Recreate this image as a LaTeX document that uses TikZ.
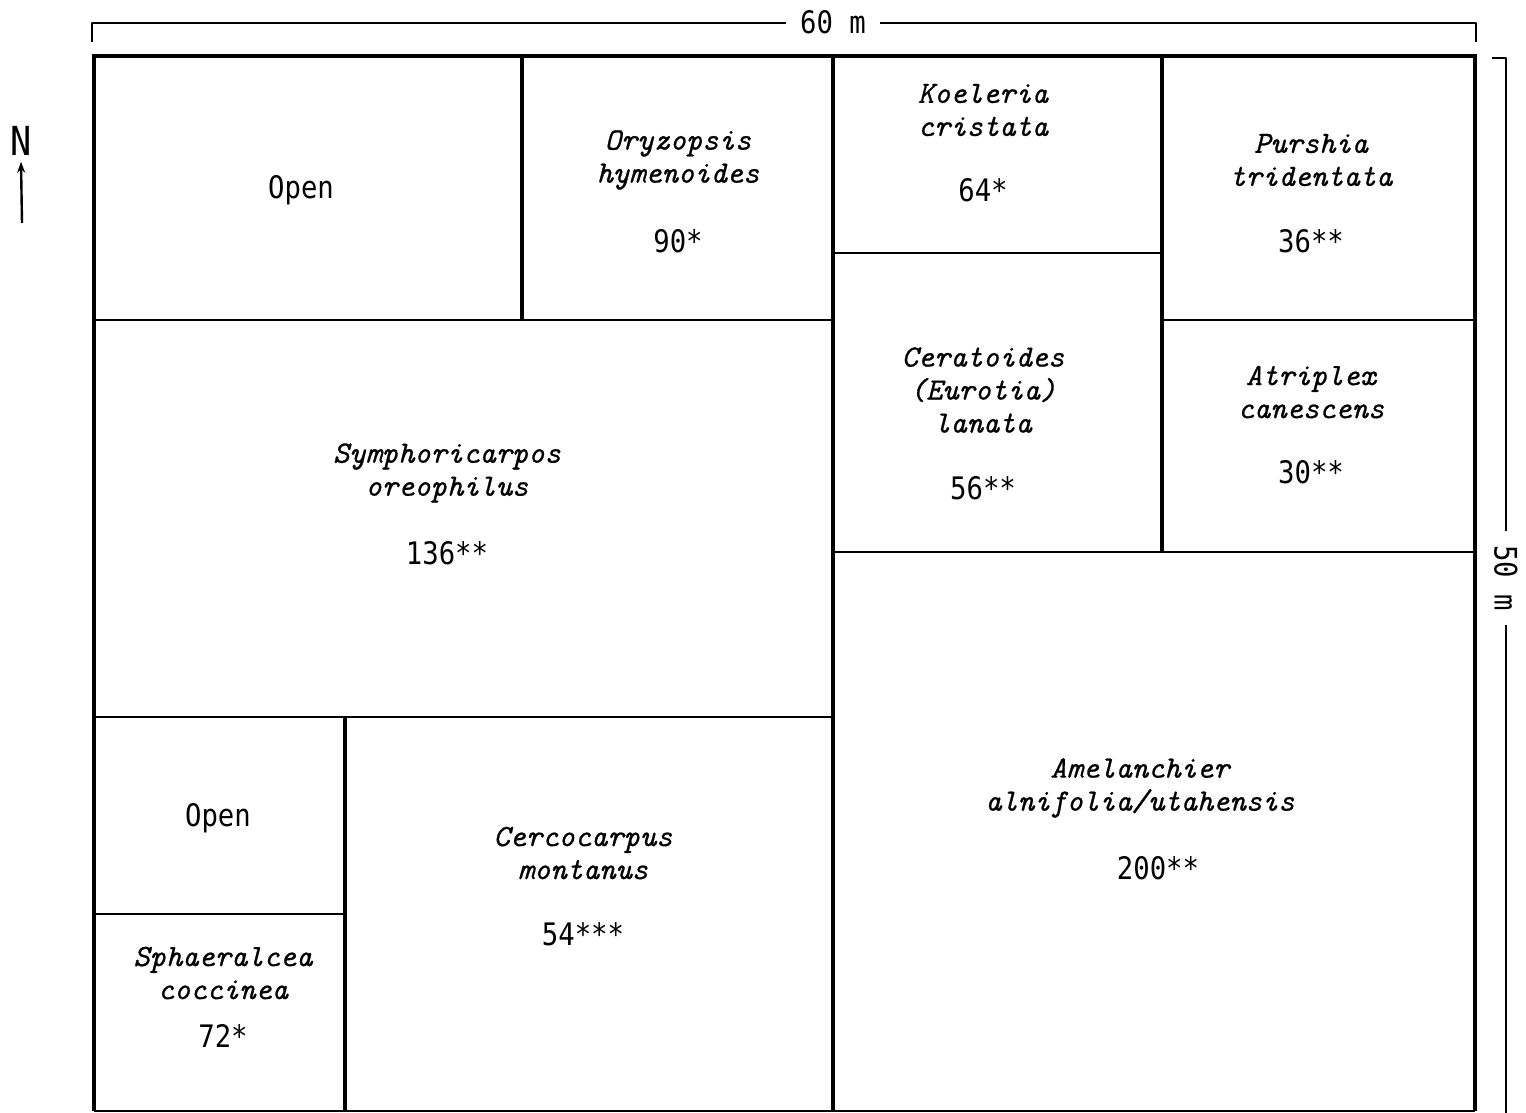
\documentclass[tikz,border=0pt]{standalone}
\usepackage{fontspec}
\setmainfont{DejaVu Sans Mono}
\newfontfamily\numfont[FakeStretch=0.88]{DejaVu Sans Mono}
\newfontfamily\spfont{Latin Modern Mono}[ItalicFeatures={FakeBold=0.7}]
\usetikzlibrary{arrows.meta}
\begin{document}
\begin{tikzpicture}[x=1pt,y=-1pt,
  frame/.style={line width=3.2pt},
  divline/.style={line width=2.2pt},
  dimline/.style={line width=1.8pt},
  species/.style={font=\fontsize{31}{33}\selectfont\spfont\itshape, align=center, inner sep=0pt},
  count/.style={font=\fontsize{31}{33}\selectfont\numfont, inner sep=0pt},
  dimlabel/.style={font=\fontsize{31}{33}\selectfont\numfont, inner xsep=14pt, inner ysep=2pt}]
\useasboundingbox (0,0) rectangle (1526,1113);
% corner coordinates
\coordinate (tl) at (94,56);
\coordinate (tr) at (1475,56);
\coordinate (bl) at (94,1111);
\coordinate (br) at (1475,1111);
% frame
\draw[frame] (bl) -- (tl) -- (tr) -- (br);
\draw[line width=1.2pt] (bl) -- (br);
% main vertical divider
\coordinate (mt) at (833,56);
\coordinate (mb) at (833,1111);
\draw[frame] (mt) -- (mb);
% left half
\coordinate (a1) at (522,56); \coordinate (a2) at (522,320);
\draw[frame] (a1) -- (a2);
\coordinate (h1l) at (94,320); \coordinate (h1r) at (833,320);
\draw[divline] (h1l) -- (h1r);
\coordinate (h2l) at (94,717); \coordinate (h2r) at (833,717);
\draw[divline] (h2l) -- (h2r);
\coordinate (v2t) at (345,717); \coordinate (v2b) at (345,1111);
\draw[frame] (v2t) -- (v2b);
\coordinate (h3l) at (94,914); \coordinate (h3r) at (345,914);
\draw[divline] (h3l) -- (h3r);
% right half
\coordinate (v3t) at (1162,56); \coordinate (v3b) at (1162,552);
\draw[frame] (v3t) -- (v3b);
\coordinate (h4l) at (833,253); \coordinate (h4r) at (1162,253);
\draw[divline] (h4l) -- (h4r);
\coordinate (h5l) at (1162,320); \coordinate (h5r) at (1475,320);
\draw[divline] (h5l) -- (h5r);
\coordinate (h6l) at (833,552); \coordinate (h6r) at (1475,552);
\draw[divline] (h6l) -- (h6r);

% top dimension
\node[dimlabel] (d60) at (833,22) {60 m};
\coordinate (d60l) at (92,42); \coordinate (d60lc) at (92,23);
\coordinate (d60r) at (1476,42); \coordinate (d60rc) at (1476,23);
\draw[dimline, line join=round] (d60l) -- (d60lc) -- (d60.west |- d60lc);
\draw[dimline, line join=round] (d60.east |- d60rc) -- (d60rc) -- (d60r);
% right dimension
\node[dimlabel, rotate=-90] (d50) at (1506,578) {50 m};
\coordinate (d50t) at (1492,58); \coordinate (d50tc) at (1506,58);
\coordinate (d50b) at (1506,1113);
\draw[dimline, line join=round] (d50t) -- (d50tc) -- (d50.west -| d50tc);
\draw[dimline] (d50.east -| d50tc) -- (d50b);

% north arrow
\node[font=\fontsize{40}{40}\selectfont\numfont, inner sep=0pt] (N) at (21,141) {N};
\coordinate (ntail) at (22,223);
\draw[line width=2.4pt, -{Stealth[length=11pt,width=8pt]}] (ntail) -- ([yshift=-6pt]N.south);

% cells
\node[count] (open1) at (301,190) {Open};
\node[species] (oryz) at (678,160) {Oryzopsis\\hymenoides};
\node[count] (n90) at (678,241) {90*};
\node[species] (koel) at (983,110) {Koeleria\\cristata};
\node[count] (n64) at (983,190) {64*};
\node[species] (pursh) at (1311,160) {Purshia\\tridentata};
\node[count] (n36) at (1311,241) {36**};
\node[species] (symph) at (447,473) {Symphoricarpos\\oreophilus};
\node[count] (n136) at (447,553) {136**};
\node[species] (cerat) at (983,390) {Ceratoides\\(Eurotia)\\lanata};
\node[count] (n56) at (983,488) {56**};
\node[species] (atrip) at (1311,392) {Atriplex\\canescens};
\node[count] (n30) at (1311,472) {30**};
\node[count] (open2) at (218,818) {Open};
\node[species] (cerco) at (583,853) {Cercocarpus\\montanus};
\node[count] (n54) at (583,934) {54***};
\node[species] (sphae) at (223,973) {Sphaeralcea\\coccinea};
\node[count] (n72) at (223,1036) {72*};
\node[species] (amel) at (1140,788) {Amelanchier\\alnifolia/utahensis};
\node[count] (n200) at (1158,868) {200**};
\end{tikzpicture}
\end{document}
